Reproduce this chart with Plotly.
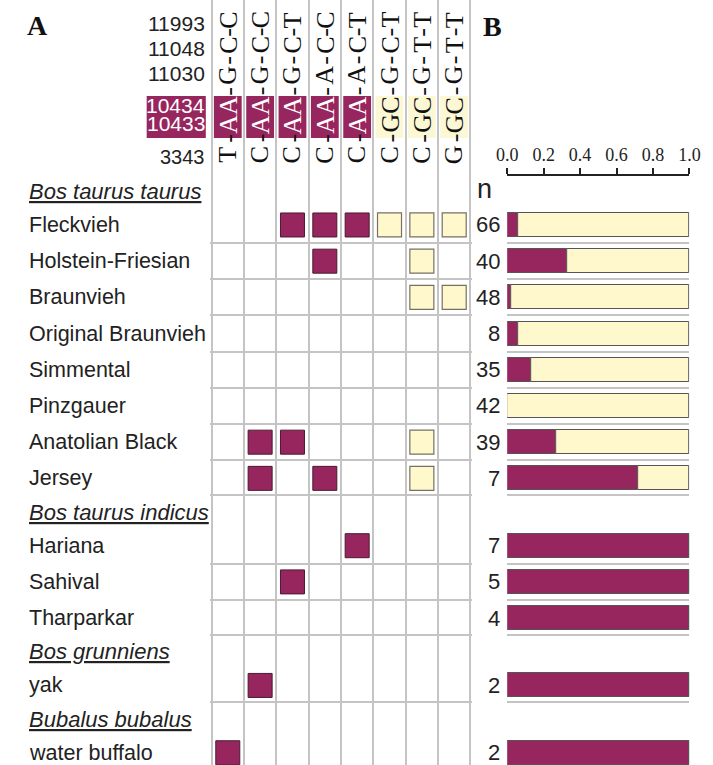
import plotly.graph_objects as go

# ---------------- data ----------------
haplotypes = ["T-AA-G-C-C", "C-AA-G-C-C", "C-AA-G-C-T", "C-AA-A-C-C",
              "C-AA-A-C-T", "C-GC-G-C-T", "C-GC-G-T-T", "G-GC-G-T-T"]
loci = ["3343", "10433", "10434", "11030", "11048", "11993"]

groups = ["Bos taurus taurus", "Bos taurus indicus", "Bos grunniens", "Bubalus bubalus"]
group_breeds = [
    ["Fleckvieh", "Holstein-Friesian", "Braunvieh", "Original Braunvieh",
     "Simmental", "Pinzgauer", "Anatolian Black", "Jersey"],
    ["Hariana", "Sahival", "Tharparkar"],
    ["yak"],
    ["water buffalo"],
]
# haplotype indices observed in each breed (same order as breeds)
observed = [
    [2, 3, 4, 5, 6, 7], [3, 6], [6, 7], [], [], [], [1, 2, 6], [1, 3, 6],
    [4], [2], [],
    [1],
    [0],
]
n_samples = [66, 40, 48, 8, 35, 42, 39, 7, 7, 5, 4, 2, 2]
freq_AA = [0.06, 0.33, 0.02, 0.06, 0.13, 0.0, 0.27, 0.72, 1.0, 1.0, 1.0, 1.0, 1.0]
axis_ticks = [0.0, 0.2, 0.4, 0.6, 0.8, 1.0]

# ---------------- style / layout ----------------
W, H = 713, 765
MAG = "#97265F"
CREAM = "#FFF8CC"
PALE = "#FCF7D4"
GRID = "#C4C4C4"
EDGE = "#555555"
SANS = "Liberation Sans, Arial, sans-serif"
SERIF = "Liberation Serif, Times New Roman, serif"

def xp(px):
    return px / W

def yp(px):
    return 1 - px / H

# row positions (in row units); header-to-breed spacing slightly less than a row
G = 0.93
header_pos, breed_pos, breed_names, boundaries = [], [], [], []
cur = 0.0
for gi, breeds in enumerate(group_breeds):
    if gi > 0:
        boundaries.append(breed_pos[-1] + G / 2)
    header_pos.append(cur)
    cur += G
    for bi, b in enumerate(breeds):
        if bi > 0:
            boundaries.append(cur - 0.5)
        breed_pos.append(cur)
        breed_names.append(b)
        cur += 1
    cur = cur - 1 + G

A_PX, B_PX = 191.3, 36.2          # pixel of row 0, pixels per row
yrange = [(H - A_PX) / B_PX, -A_PX / B_PX]

ncol = len(haplotypes)
colw = (474 - 207) / ncol
xa_l, xa_r = 205, 476
xrange_a = [-0.5 - (207 - xa_l) / colw, ncol - 0.5 + (xa_r - 474) / colw]

fig = go.Figure()

# ---------------- panel A: squares ----------------
mx, my, cx, cy = [], [], [], []
for bi, haps in enumerate(observed):
    for h in haps:
        if "AA" in haplotypes[h]:
            mx.append(h); my.append(breed_pos[bi])
        else:
            cx.append(h); cy.append(breed_pos[bi])
fig.add_trace(go.Scatter(x=mx, y=my, mode="markers", xaxis="x", yaxis="y",
                         marker=dict(symbol="square", size=24, color=MAG,
                                     line=dict(color="#4a1a30", width=1)),
                         hoverinfo="skip"))
fig.add_trace(go.Scatter(x=cx, y=cy, mode="markers", xaxis="x", yaxis="y",
                         marker=dict(symbol="square", size=24, color=CREAM,
                                     line=dict(color="#777060", width=1.2)),
                         hoverinfo="skip"))

# ---------------- panel B: bars ----------------
rest = [1 - f for f in freq_AA]
fig.add_trace(go.Bar(x=freq_AA, y=breed_pos, base=[0] * len(freq_AA), orientation="h",
                     xaxis="x2", yaxis="y2", width=0.66,
                     marker=dict(color=MAG, line=dict(color=EDGE, width=1)),
                     hoverinfo="skip"))
fig.add_trace(go.Bar(x=rest, y=breed_pos, base=freq_AA, orientation="h",
                     xaxis="x2", yaxis="y2", width=0.66,
                     marker=dict(color=CREAM, line=dict(color=EDGE, width=1)),
                     hoverinfo="skip"))

ann = []
shapes = []

def text(x, y, s, size, family=SANS, color="#222", xanchor="center",
         yanchor="middle", xref="paper", yref="paper", angle=0):
    ann.append(dict(x=x, y=y, xref=xref, yref=yref, xanchor=xanchor,
                    yanchor=yanchor, showarrow=False, text=s, textangle=angle,
                    font=dict(family=family, size=size, color=color)))

# species + group labels
for gname, hp in zip(groups, header_pos):
    text(xp(17), hp, "<i><u>" + gname + "</u></i>", 22, xanchor="left", yref="y")
for name, bp, n in zip(breed_names, breed_pos, n_samples):
    text(xp(17), bp, name, 21.5, xanchor="left", yref="y")
    text(xp(507), bp, str(n), 22, xanchor="right", yref="y")

# locus labels
locus_px = {"11993": 23, "11048": 48, "11030": 74, "10434": 106, "10433": 124, "3343": 157}
for loc in loci:
    white = loc in ("10433", "10434")
    size = 21 if loc != "3343" else 20
    text(xp(202), yp(locus_px[loc]), loc, size, xanchor="right",
         color="white" if white else "#222")
shapes.append(dict(type="rect", xref="paper", yref="paper", x0=xp(140), x1=xp(201),
                   y0=yp(96), y1=yp(138), fillcolor=MAG, line=dict(width=0),
                   layer="above"))

# haplotype column headers (rotated), one piece per locus
seg_px = [155, 115, 75, 45, 20]
hyph_px = [138, 91, 60, 32]
for i, hap in enumerate(haplotypes):
    parts = hap.split("-")
    is_aa = parts[1] == "AA"
    shapes.append(dict(type="rect", xref="x", yref="paper", x0=i - 0.43, x1=i + 0.43,
                       y0=yp(96), y1=yp(138), fillcolor=MAG if is_aa else PALE,
                       line=dict(width=0), layer="above"))
    for k, part in enumerate(parts):
        col = "white" if (k == 1 and is_aa) else "#111"
        text(i, yp(seg_px[k]), part, 26, family=SERIF, color=col, xref="x", angle=-90)
    for k, hpx in enumerate(hyph_px):
        text(i, yp(hpx), "-", 26, family=SERIF, color="#111", xref="x", angle=-90)

# panel letters and n
text(xp(27), yp(26), "<b>A</b>", 28, family=SERIF, color="#111")
text(xp(497), yp(27), "<b>B</b>", 28, family=SERIF, color="#111")
text(xp(489), yp(189), "n", 27)

fig.update_layout(
    width=W, height=H, margin=dict(l=0, r=0, t=0, b=0),
    paper_bgcolor="white", plot_bgcolor="white", showlegend=False,
    barmode="overlay", bargap=0,
    xaxis=dict(domain=[xp(xa_l), xp(xa_r)], range=xrange_a,
               tickvals=[i - 0.5 for i in range(ncol + 1)], showticklabels=False,
               ticks="", showgrid=True, gridcolor=GRID, gridwidth=2,
               zeroline=False, showline=False, fixedrange=True),
    yaxis=dict(domain=[0, 1], range=yrange, tickvals=boundaries, showticklabels=False,
               ticks="", showgrid=True, gridcolor=GRID, gridwidth=2,
               zeroline=False, showline=False, fixedrange=True),
    xaxis2=dict(domain=[xp(512), xp(700)], range=[0, 1], side="top", anchor="free",
                position=yp(175), tickvals=axis_ticks, tickformat=".1f",
                ticks="outside", ticklen=6, tickwidth=1.5, tickcolor="#222",
                showline=True, linecolor="#222", linewidth=1.5, showgrid=False,
                zeroline=False, tickfont=dict(family=SERIF, size=18, color="#222"),
                fixedrange=True),
    yaxis2=dict(domain=[0, 1], range=yrange, anchor="x2", tickvals=boundaries,
                showticklabels=False, ticks="", showgrid=True, gridcolor=GRID,
                gridwidth=2, zeroline=False, showline=False, fixedrange=True),
    annotations=ann, shapes=shapes,
)

fig.write_html("out.html", config={"displayModeBar": False},
               post_script="document.body.style.margin='0';"
                           "document.body.style.overflow='hidden';")
